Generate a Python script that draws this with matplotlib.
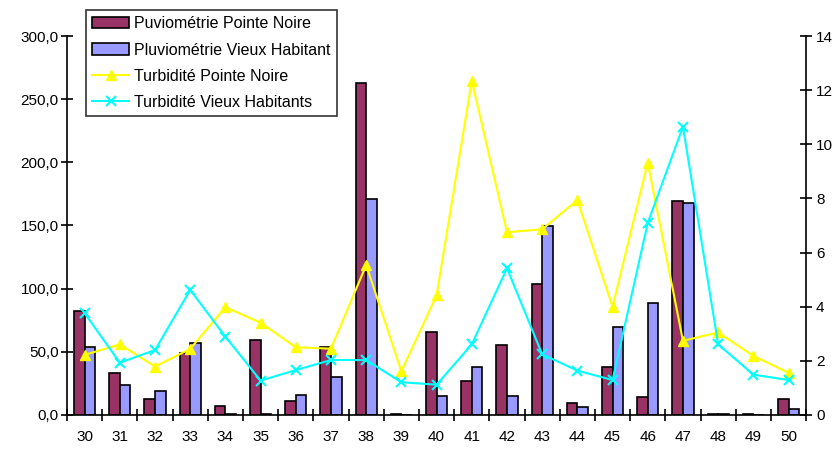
import matplotlib
matplotlib.use("Agg")
import matplotlib.pyplot as plt
import numpy as np
from matplotlib.ticker import FuncFormatter, FixedLocator

plt.rcParams['font.family'] = ['Liberation Sans', 'DejaVu Sans']

weeks = [str(w) for w in range(30, 51)]
pluvio_pointe_noire = [82.6, 33.5, 12.9, 49.3, 6.9, 59.1, 11.3, 54.0, 263.0, 1.0, 65.5,
                       27.2, 55.7, 103.5, 9.7, 38.2, 14.5, 169.7, 1.0, 1.0, 12.9]
pluvio_vieux_habitant = [54.0, 24.0, 19.2, 57.2, 0.8, 0.8, 16.1, 30.3, 171.0, 0.0, 14.8,
                         38.2, 14.8, 149.6, 6.6, 70.0, 89.0, 167.9, 1.0, 0.0, 5.0]
turb_pointe_noire = [2.22, 2.61, 1.79, 2.44, 3.98, 3.41, 2.50, 2.45, 5.54, 1.61, 4.42,
                     12.35, 6.75, 6.86, 7.94, 4.00, 9.32, 2.74, 3.05, 2.18, 1.56]
turb_vieux_habitants = [3.76, 1.93, 2.40, 4.62, 2.89, 1.27, 1.66, 2.03, 2.03, 1.21, 1.12,
                        2.61, 5.42, 2.24, 1.64, 1.29, 7.10, 10.65, 2.61, 1.49, 1.29]

fig = plt.figure(figsize=(8.38, 4.5), dpi=100)
ax = fig.add_axes([0.080, 0.0778, 0.882, 0.8422])
ax2 = ax.twinx()

x = np.arange(len(weeks))
w = 0.3
b1 = ax.bar(x - w / 2, pluvio_pointe_noire, w, color='#993366', edgecolor='black', linewidth=1.2,
            label='Puviométrie Pointe Noire', zorder=2)
b2 = ax.bar(x + w / 2, pluvio_vieux_habitant, w, color='#9999FF', edgecolor='black', linewidth=1.2,
            label='Pluviométrie Vieux Habitant', zorder=2)

l1, = ax2.plot(x, turb_pointe_noire, color='#FFFF00', marker='^', markersize=7, linewidth=1.5,
               label='Turbidité Pointe Noire')
l2, = ax2.plot(x, turb_vieux_habitants, color='#00FFFF', marker='x', markersize=7,
               markeredgewidth=1.5, linewidth=1.5, label='Turbidité Vieux Habitants')

ax.set_xlim(-0.5, len(weeks) - 0.5)
ax.set_ylim(0, 300)
ax2.set_ylim(0, 14)
ax.set_yticks(np.arange(0, 301, 50))
ax.yaxis.set_major_formatter(FuncFormatter(lambda v, p: f"{v:.1f}".replace('.', ',')))
ax2.set_yticks(np.arange(0, 15, 2))

ax.set_xticks(x)
ax.set_xticklabels(weeks)
ax.xaxis.set_minor_locator(FixedLocator(np.arange(-0.5, len(weeks), 1.0)))
ax.tick_params(axis='x', which='major', length=0, pad=11, labelsize=11)
ax.tick_params(axis='x', which='minor', length=8, direction='inout', width=1.2)
ax.tick_params(axis='y', length=8, direction='inout', width=1.2, labelsize=11, pad=2)
ax2.tick_params(axis='y', length=8, direction='inout', width=1.2, labelsize=11, pad=3)

for a in (ax, ax2):
    a.spines['top'].set_visible(False)
    for s in ('left', 'right', 'bottom'):
        a.spines[s].set_linewidth(1.2)
ax.spines['right'].set_visible(False)
ax2.spines['left'].set_visible(False)
ax2.spines['bottom'].set_visible(False)

leg = fig.legend(handles=[b1, b2, l1, l2], loc='upper left', bbox_to_anchor=(86 / 838, 1 - 10 / 450),
                 frameon=True, fancybox=False, shadow=False, fontsize=11.5, handlelength=2.3,
                 borderpad=0.4, labelspacing=0.7, handletextpad=0.3, borderaxespad=0)
leg.get_frame().set_edgecolor('black')
leg.get_frame().set_linewidth(1.2)

fig.savefig('out.png', dpi=100)
